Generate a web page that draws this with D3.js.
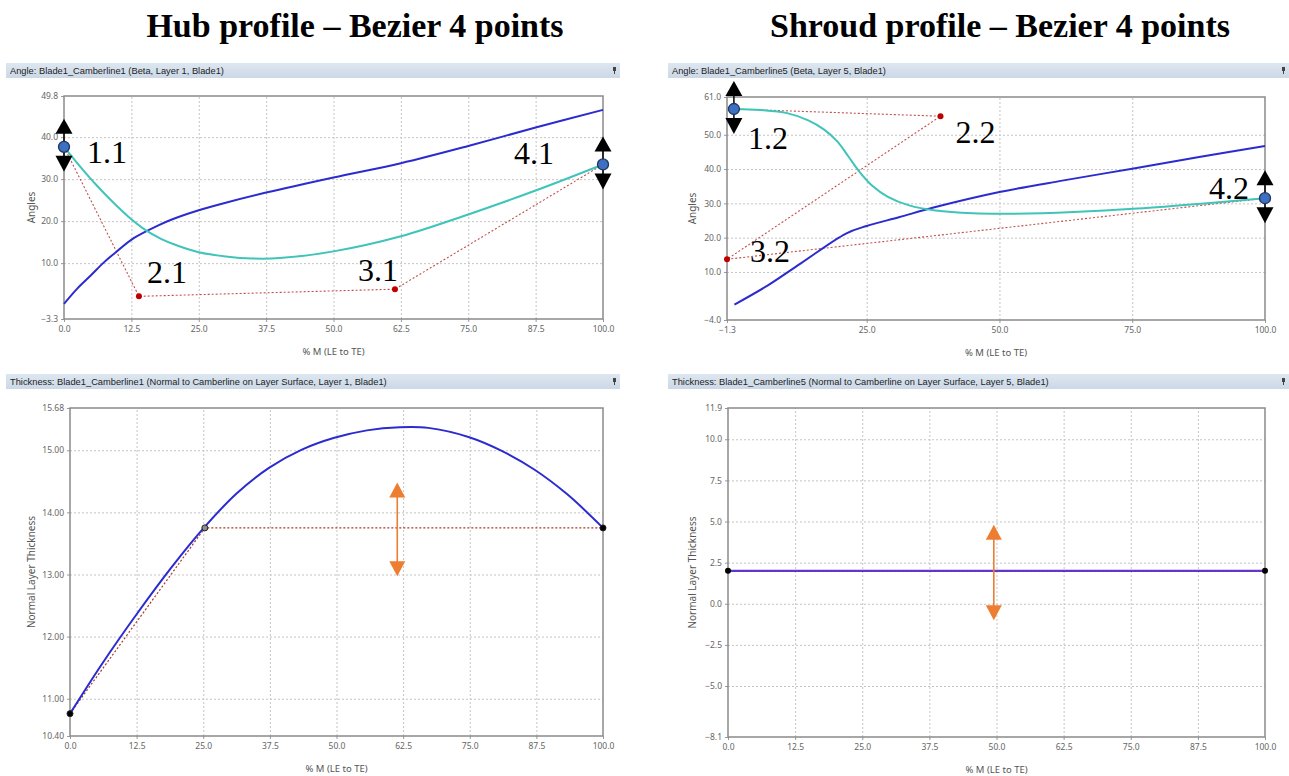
<!DOCTYPE html>
<html>
<head>
<meta charset="utf-8">
<script src="https://cdn.jsdelivr.net/npm/d3@7"></script>
<style>
  body { margin: 0; background: #fff; }
  .tick text { font-family: "Noto Sans", "DejaVu Sans", sans-serif; font-size: 8.5px; fill: #666; }
  .grid line { stroke: #c4c4c4; stroke-dasharray: 2,2; }
  .grid path { display: none; }
</style>
</head>
<body>
<svg id="chart" width="1289" height="776"></svg>
<script>
// ---- data ----
var quarterTicks = [0, 12.5, 25, 37.5, 50, 62.5, 75, 87.5, 100];
var shroudAngleXTicks = [-1.3, 25, 50, 75, 100];

// hub angle
var hubAngleTicks = [-3.3, 10, 20, 30, 40, 49.8];
var hubBlueM   = [0, 2.5, 5, 7.5, 10, 13, 17.5, 20, 25, 30, 37.5, 50, 62.5, 75, 87.5, 100];
var hubBlueVal = [0.3, 4.0, 7.1, 10.3, 13.0, 16.0, 19.0, 20.4, 22.6, 24.4, 26.8, 30.4, 33.8, 37.9, 42.3, 46.5];
var hubBetaM   = [0, 3, 6, 9, 12, 15, 18, 21, 25, 30, 35, 40, 50, 62.5, 75, 87.5, 100];
var hubBetaVal = [37.7, 33.0, 28.6, 24.6, 21.0, 18.0, 15.8, 14.2, 12.6, 11.6, 11.1, 11.2, 12.8, 16.4, 21.6, 27.3, 33.5];
var hubCtrlM   = [0, 13.9, 61.4, 100];
var hubCtrlVal = [37.7, 2.1, 3.8, 33.5];
var hubCtrlNames = ["1.1", "2.1", "3.1", "4.1"];

// shroud angle
var shroudAngleTicks = [-4.0, 10, 20, 30, 40, 50, 61.0];
var shroudBlueM   = [0.1, 6.4, 12.6, 21.1, 25, 31.2, 37.4, 50, 62.1, 75, 87.6, 100];
var shroudBlueVal = [0.5, 6.1, 12.5, 21.2, 23.4, 26.0, 28.7, 33.3, 36.7, 40.1, 43.5, 46.7];
var shroudBetaM   = [0, 5, 10, 14, 17, 19.5, 21.5, 23.5, 26, 29, 33, 38, 45, 53, 64, 76, 88, 100];
var shroudBetaVal = [57.5, 57.2, 56.3, 54.2, 51.5, 48.0, 43.8, 39.5, 35.2, 31.9, 29.4, 27.9, 27.1, 27.0, 27.5, 28.5, 29.9, 31.5];
var shroudCtrlM   = [0, 38.9, -1.3, 100];
var shroudCtrlVal = [57.5, 55.4, 13.7, 31.5];
var shroudCtrlNames = ["1.2", "2.2", "3.2", "4.2"];

// hub thickness
var hubThickTicks = [10.40, 11, 12, 13, 14, 15, 15.68];
var hubThickM   = [0, 6, 12.5, 19, 25.1, 31.2, 37.4, 43.5, 49.6, 55.7, 61.9, 67.2, 74.9, 81, 87.1, 93.3, 100];
var hubThickVal = [10.76, 11.56, 12.36, 13.11, 13.75, 14.30, 14.72, 15.01, 15.20, 15.32, 15.37, 15.36, 15.21, 14.99, 14.69, 14.29, 13.75];
var hubThickCtrlM   = [0, 25.3, 100];
var hubThickCtrlVal = [10.76, 13.75, 13.75];
var hubThickArrow = [61.4, 12.97, 14.48];

// shroud thickness
var shroudThickTicks = [-8.1, -5, -2.5, 0, 2.5, 5, 7.5, 10, 11.9];
var shroudThickM   = [0, 100];
var shroudThickVal = [2.0, 2.0];
var shroudThickArrow = [49.5, -1.0, 4.8];

// ---- drawing ----
var svg = d3.select('#chart');
var blue = '#2b2bcf', teal = '#3fc4b9', red = '#c0504d', orange = '#ed7d31';

var defs = svg.append('defs');
var grad = defs.append('linearGradient').attr('id', 'barGrad').attr('x1', 0).attr('x2', 0).attr('y1', 0).attr('y2', 1);
grad.append('stop').attr('offset', '0%').attr('stop-color', '#dde7f1');
grad.append('stop').attr('offset', '100%').attr('stop-color', '#cbd8e6');

svg.append('text').attr('x', 355).attr('y', 37).attr('text-anchor', 'middle')
  .style('font-family', '"Liberation Serif", "Times New Roman", serif').style('font-weight', 'bold').style('font-size', '34px')
  .text('Hub profile \u2013 Bezier 4 points');
svg.append('text').attr('x', 1000).attr('y', 37).attr('text-anchor', 'middle')
  .style('font-family', '"Liberation Serif", "Times New Roman", serif').style('font-weight', 'bold').style('font-size', '34px')
  .text('Shroud profile \u2013 Bezier 4 points');

function zip(a, b) { return a.map(function(v, i){ return [v, b[i]]; }); }

function panel(o) {
  var g = svg.append('g');
  // title bar
  g.append('rect').attr('x', o.bar[0]).attr('y', o.bar[1]).attr('width', o.bar[2] - o.bar[0]).attr('height', 15)
    .style('fill', 'url(#barGrad)');
  g.append('text').attr('x', o.bar[0] + 4).attr('y', o.bar[1] + 11)
    .style('font-family', '"Liberation Sans", Arial, sans-serif').style('font-size', '9.3px').style('fill', '#222')
    .text(o.title);
  // pin glyph
  g.append('rect').attr('x', o.bar[2] - 7).attr('y', o.bar[1] + 4).attr('width', 3).attr('height', 4).style('fill', '#444');
  g.append('line').attr('x1', o.bar[2] - 5.5).attr('x2', o.bar[2] - 5.5).attr('y1', o.bar[1] + 8).attr('y2', o.bar[1] + 11)
    .style('stroke', '#444');

  var x = d3.scaleLinear().domain(o.xDomain).range([o.box[0], o.box[1]]);
  var y = d3.scaleLinear().domain(o.yDomain).range([o.box[3], o.box[2]]);
  var w = o.box[1] - o.box[0], h = o.box[3] - o.box[2];

  var inner = function(t, d){ return t.filter(function(v){ return v !== d[0] && v !== d[1]; }); };
  g.append('g').attr('class', 'grid').attr('transform', 'translate(0,' + o.box[3] + ')')
    .call(d3.axisBottom(x).tickValues(inner(o.xTicks, o.xDomain)).tickSize(-h).tickFormat(''));
  g.append('g').attr('class', 'grid').attr('transform', 'translate(' + o.box[0] + ',0)')
    .call(d3.axisLeft(y).tickValues(inner(o.yTicks, o.yDomain)).tickSize(-w).tickFormat(''));

  var xa = g.append('g').attr('transform', 'translate(0,' + o.box[3] + ')')
    .call(d3.axisBottom(x).tickValues(o.xTicks).tickSize(3).tickPadding(4).tickFormat(d3.format('.1f')));
  var ya = g.append('g').attr('transform', 'translate(' + o.box[0] + ',0)')
    .call(d3.axisLeft(y).tickValues(o.yTicks).tickSize(3).tickPadding(3).tickFormat(d3.format(o.yFmt)));
  [xa, ya].forEach(function(a){
    a.select('.domain').remove();
    a.selectAll('.tick line').style('stroke', '#999');
  });

  g.append('rect').attr('x', o.box[0]).attr('y', o.box[2]).attr('width', w).attr('height', h)
    .style('fill', 'none').style('stroke', '#8a8a8a').style('stroke-width', 1.5);

  g.append('text').attr('x', (o.box[0] + o.box[1]) / 2).attr('y', o.box[3] + 36).attr('text-anchor', 'middle')
    .style('font-family', '"Noto Sans", sans-serif').style('font-size', '9.5px').style('fill', '#555')
    .text('% M (LE to TE)');
  g.append('text').attr('transform', 'translate(' + o.yTitleX + ',' + (o.box[2] + o.box[3]) / 2 + ') rotate(-90)')
    .attr('text-anchor', 'middle')
    .style('font-family', '"Noto Sans", sans-serif').style('font-size', '10px').style('fill', '#555')
    .text(o.yTitle);

  return { g: g, x: x, y: y };
}

var lineGen = function(p, curve) {
  return d3.line().x(function(d){ return p.x(d[0]); }).y(function(d){ return p.y(d[1]); }).curve(curve || d3.curveLinear);
};

function handle(g, cx, cy) {
  g.append('line').attr('x1', cx).attr('x2', cx).attr('y1', cy - 20).attr('y2', cy + 20).style('stroke', '#000').style('stroke-width', 1.5);
  g.append('path').attr('d', 'M' + (cx - 8.5) + ',' + (cy - 13) + 'L' + (cx + 8.5) + ',' + (cy - 13) + 'L' + cx + ',' + (cy - 28) + 'Z').style('fill', '#000');
  g.append('path').attr('d', 'M' + (cx - 8.5) + ',' + (cy + 9) + 'L' + (cx + 8.5) + ',' + (cy + 9) + 'L' + cx + ',' + (cy + 25) + 'Z').style('fill', '#000');
  g.append('circle').attr('cx', cx).attr('cy', cy).attr('r', 5.5).style('fill', '#3d6fc2').style('stroke', '#1f3560').style('stroke-width', 1.3);
}

function orangeArrow(p, a) {
  var cx = p.x(a[0]), y0 = p.y(a[1]), y1 = p.y(a[2]);
  p.g.append('line').attr('x1', cx).attr('x2', cx).attr('y1', y1 + 10).attr('y2', y0 - 10).style('stroke', orange).style('stroke-width', 1.6);
  p.g.append('path').attr('d', 'M' + cx + ',' + y1 + 'L' + (cx + 8) + ',' + (y1 + 15) + 'L' + (cx - 8) + ',' + (y1 + 15) + 'Z').style('fill', orange);
  p.g.append('path').attr('d', 'M' + cx + ',' + y0 + 'L' + (cx + 8) + ',' + (y0 - 15) + 'L' + (cx - 8) + ',' + (y0 - 15) + 'Z').style('fill', orange);
}

function bezierPanel(o, blueM, blueVal, betaM, betaVal, ctrlM, ctrlVal, names, labelOffsets) {
  var p = panel(o);
  var ctrl = zip(ctrlM, ctrlVal);
  p.g.append('path').datum(ctrl).attr('d', lineGen(p))
    .style('fill', 'none').style('stroke', red).style('stroke-width', 1.1).style('stroke-dasharray', '2,2');
  p.g.append('path').datum(zip(blueM, blueVal)).attr('d', lineGen(p, d3.curveCatmullRom))
    .style('fill', 'none').style('stroke', blue).style('stroke-width', 2);
  p.g.append('path').datum(zip(betaM, betaVal)).attr('d', lineGen(p, d3.curveCatmullRom))
    .style('fill', 'none').style('stroke', teal).style('stroke-width', 2);
  ctrl.forEach(function(c, i){
    var cx = p.x(c[0]), cy = p.y(c[1]);
    if (i === 0 || i === 3) handle(p.g, cx, cy);
    else p.g.append('circle').attr('cx', cx).attr('cy', cy).attr('r', 3).style('fill', '#c00000');
    var off = labelOffsets[i];
    p.g.append('text').attr('x', cx + off[0]).attr('y', cy + off[1]).attr('text-anchor', off[2])
      .style('font-family', '"Liberation Serif", "Times New Roman", serif').style('font-size', '32px').style('fill', '#000')
      .text(names[i]);
  });
  return p;
}

bezierPanel({
  title: 'Angle: Blade1_Camberline1 (Beta, Layer 1, Blade1)',
  bar: [6, 63, 620], box: [64, 603, 96, 319],
  xDomain: [0, 100], yDomain: [-3.3, 49.8], xTicks: quarterTicks, yTicks: hubAngleTicks, yFmt: '.1f',
  yTitle: 'Angles', yTitleX: 35
}, hubBlueM, hubBlueVal, hubBetaM, hubBetaVal, hubCtrlM, hubCtrlVal, hubCtrlNames,
  [[23, 16, 'start'], [8, -13, 'start'], [3, -8, 'end'], [-49, 0, 'end']]);

bezierPanel({
  title: 'Angle: Blade1_Camberline5 (Beta, Layer 5, Blade1)',
  bar: [668, 63, 1289], box: [727, 1265, 97, 320],
  xDomain: [-1.3, 100], yDomain: [-4.0, 61.0], xTicks: shroudAngleXTicks, yTicks: shroudAngleTicks, yFmt: '.1f',
  yTitle: 'Angles', yTitleX: 696
}, shroudBlueM, shroudBlueVal, shroudBetaM, shroudBetaVal, shroudCtrlM, shroudCtrlVal, shroudCtrlNames,
  [[14, 40, 'start'], [15, 27, 'start'], [23, 3, 'start'], [-16, 1, 'end']]);

// hub thickness
var pt = panel({
  title: 'Thickness: Blade1_Camberline1 (Normal to Camberline on Layer Surface, Layer 1, Blade1)',
  bar: [6, 374, 620], box: [70, 603, 408, 736],
  xDomain: [0, 100], yDomain: [10.40, 15.68], xTicks: quarterTicks, yTicks: hubThickTicks, yFmt: '.2f',
  yTitle: 'Normal Layer Thickness', yTitleX: 35
});
var thCtrl = zip(hubThickCtrlM, hubThickCtrlVal);
pt.g.append('path').datum(thCtrl).attr('d', lineGen(pt))
  .style('fill', 'none').style('stroke', '#a33a2f').style('stroke-width', 1.2).style('stroke-dasharray', '2,2');
pt.g.append('path').datum(zip(hubThickM, hubThickVal)).attr('d', lineGen(pt, d3.curveCatmullRom))
  .style('fill', 'none').style('stroke', blue).style('stroke-width', 2);
thCtrl.forEach(function(c, i){
  pt.g.append('circle').attr('cx', pt.x(c[0])).attr('cy', pt.y(c[1])).attr('r', 3)
    .style('fill', i === 1 ? '#8c8c8c' : '#000').style('stroke', '#222').style('stroke-width', 1);
});
orangeArrow(pt, hubThickArrow);

// shroud thickness
var ps = panel({
  title: 'Thickness: Blade1_Camberline5 (Normal to Camberline on Layer Surface, Layer 5, Blade1)',
  bar: [668, 374, 1289], box: [728, 1265, 408, 737],
  xDomain: [0, 100], yDomain: [-8.1, 11.9], xTicks: quarterTicks, yTicks: shroudThickTicks, yFmt: '.1f',
  yTitle: 'Normal Layer Thickness', yTitleX: 696
});
var stData = zip(shroudThickM, shroudThickVal);
ps.g.append('path').datum(stData).attr('d', lineGen(ps))
  .style('fill', 'none').style('stroke', '#5a34d6').style('stroke-width', 2.2);
ps.g.append('path').datum(stData).attr('d', lineGen(ps))
  .style('fill', 'none').style('stroke', '#b04060').style('stroke-width', 1).style('stroke-dasharray', '2,2').style('opacity', 0.6);
stData.forEach(function(c){
  ps.g.append('circle').attr('cx', ps.x(c[0])).attr('cy', ps.y(c[1])).attr('r', 3).style('fill', '#000');
});
orangeArrow(ps, shroudThickArrow);
</script>
</body>
</html>
